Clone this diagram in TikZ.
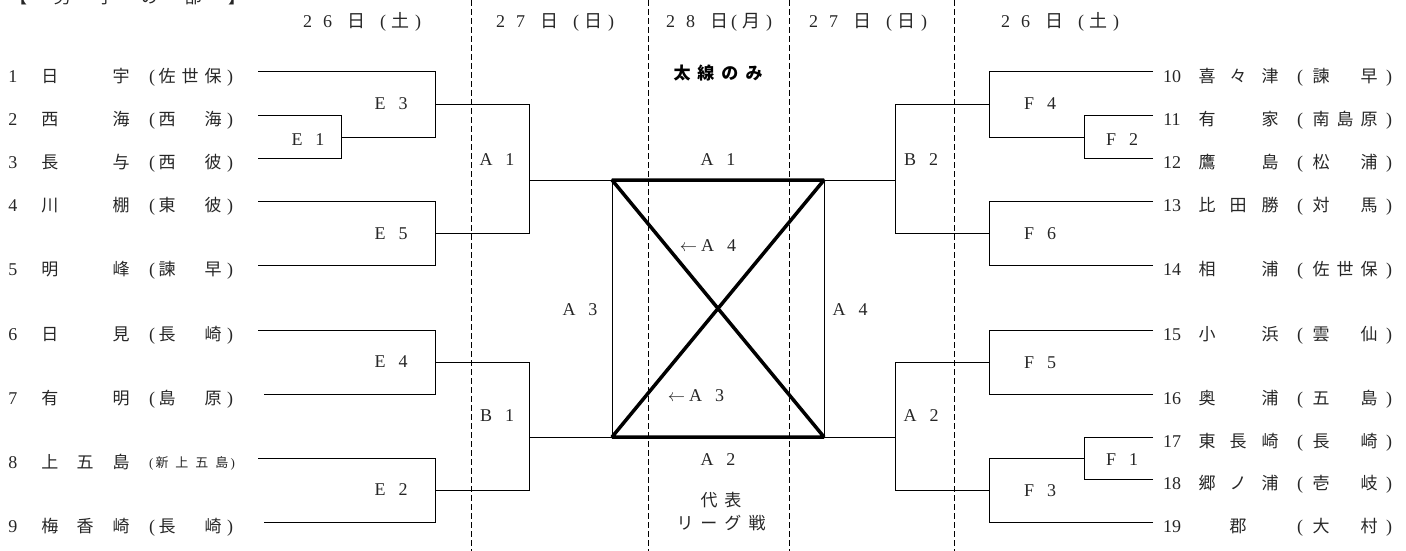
\documentclass[tikz,border=0pt]{standalone}
\usepackage{fontspec}
\setmainfont{Liberation Serif}
\newfontfamily\jp{Noto Sans CJK JP}
\tikzstyle{wire}=[draw,line width=1pt]
\tikzstyle{heavy}=[draw,line width=3.5pt,line join=bevel]
\tikzstyle{dayline}=[draw,line width=0.8pt,dash pattern=on 6pt off 3pt]
\tikzstyle{txt}=[anchor=base,inner sep=0pt,text=black!85,font=\fontsize{18}{20}\selectfont]
\tikzstyle{kan}=[txt,font=\jp\fontsize{17}{19}\selectfont]
\newcommand\mlab[2]{#1\hspace{13pt}#2}
\newcommand\dday[4]{#1\hspace{11pt}#2\hspace{15pt}{\jp 日}\hspace{#4pt}(\hspace{5pt}{\jp #3}\hspace{6pt})}

\begin{document}
\begin{tikzpicture}[x=1pt,y=-1pt]
    \useasboundingbox (0,0) rectangle (1406,551);

    % day columns
    \foreach \x in {471,648,789,954}
        \draw[dayline] (\x,0) -- (\x,551);

    \node[kan, anchor=base west] (title) at (10,4) {\makebox[235pt]{【\hfill 男\hfill 子\hfill の\hfill 部\hfill 】}};

    \node[txt] (d1) at (362,28) {\dday{2}{6}{土}{15}};
    \node[txt] (d2) at (555,28) {\dday{2}{7}{日}{15}};
    \node[txt] (d3) at (719,28) {\dday{2}{8}{月}{3}};
    \node[txt] (d4) at (868,28) {\dday{2}{7}{日}{15}};
    \node[txt] (d5) at (1060,28) {\dday{2}{6}{土}{15}};

    % left teams
    \foreach \y/\n/\a/\b/\c/\p/\q/\r in {72/1/日/{}/宇/佐/世/保, 115/2/西/{}/海/西/{}/海,
        158/3/長/{}/与/西/{}/彼, 201/4/川/{}/棚/東/{}/彼, 265/5/明/{}/峰/諫/{}/早,
        330/6/日/{}/見/長/{}/崎, 394/7/有/{}/明/島/{}/原, 458/8/上/五/島/{}/{}/{},
        522/9/梅/香/崎/長/{}/崎}
    {
        \node[txt] (n\n) at (13,\y+10) {\n};
        \node[kan] (n\n-a) at (50,\y+10) {\a};
        \node[kan] (n\n-b) at (85,\y+10) {\b};
        \node[kan] (n\n-c) at (121,\y+10) {\c};
        \node[kan] (n\n-p) at (167,\y+10) {\p};
        \node[kan] (n\n-q) at (190,\y+10) {\q};
        \node[kan] (n\n-r) at (213,\y+10) {\r};
    }
    \foreach \y/\n in {72/1,115/2,158/3,201/4,265/5,330/6,394/7,522/9}
    {
        \node[txt] (o\n) at (152,\y+10) {(};
        \node[txt] (c\n) at (230,\y+10) {)};
    }
    \node[txt, font=\fontsize{13}{15}\selectfont] (n8-h) at (192,467)
        {(\hspace{2pt}{\jp 新\hspace{7pt}上\hspace{7pt}五\hspace{7pt}島}\hspace{2pt})};

    % right teams
    \foreach \y/\n/\a/\b/\c/\p/\q/\r in {72/10/喜/々/津/諫/{}/早, 115/11/有/{}/家/南/島/原,
        158/12/鷹/{}/島/松/{}/浦, 201/13/比/田/勝/対/{}/馬, 265/14/相/{}/浦/佐/世/保,
        330/15/小/{}/浜/雲/{}/仙, 394/16/奥/{}/浦/五/{}/島, 437/17/東/長/崎/長/{}/崎,
        479/18/郷/ノ/浦/壱/{}/岐, 522/19/{}/郡/{}/大/{}/村}
    {
        \node[txt] (n\n) at (1172,\y+10) {\n};
        \node[kan] (n\n-a) at (1207,\y+10) {\a};
        \node[kan] (n\n-b) at (1238,\y+10) {\b};
        \node[kan] (n\n-c) at (1270,\y+10) {\c};
        \node[txt] (o\n) at (1300,\y+10) {(};
        \node[kan] (n\n-p) at (1321,\y+10) {\p};
        \node[kan] (n\n-q) at (1345,\y+10) {\q};
        \node[kan] (n\n-r) at (1369,\y+10) {\r};
        \node[txt] (c\n) at (1389,\y+10) {)};
    }

    % line ends
    \foreach \y/\x [count=\i] in {72/258,115/258,158/258,201/258,265/258,330/258,394/264,458/258,522/264}
        \coordinate (s\i) at (\x,\y);
    \foreach \y [count=\i from 10] in {72,115,158,201,265,330,394,437,479,522}
        \coordinate (s\i) at (1153,\y);

    \coordinate (e1) at (341,137);
    \coordinate (e3) at (435,104);
    \coordinate (e5) at (435,233);
    \coordinate (e4) at (435,362);
    \coordinate (e2) at (435,490);
    \coordinate (a1) at (529,180);
    \coordinate (b1) at (529,437);
    \coordinate (f2) at (1084,137);
    \coordinate (f4) at (989,104);
    \coordinate (f6) at (989,233);
    \coordinate (f5) at (989,362);
    \coordinate (f1) at (1084,458);
    \coordinate (f3) at (989,490);
    \coordinate (b2) at (895,180);
    \coordinate (a2) at (895,437);
    \coordinate (k1) at (612,180);
    \coordinate (k2) at (824,180);
    \coordinate (k3) at (612,437);
    \coordinate (k4) at (824,437);

    % left bracket
    \foreach \src/\dest in {s2/e1, s3/e1, e1/e3, s1/e3, e3/a1, s4/e5, s5/e5, e5/a1,
        s6/e4, s7/e4, s8/e2, s9/e2, e4/b1, e2/b1}
        \path[wire] (\src) -| (\dest);
    \path[wire] (a1) -- (k1);
    \path[wire] (b1) -- (k3);

    % right bracket
    \foreach \src/\dest in {s11/f2, s12/f2, f2/f4, s10/f4, f4/b2, s13/f6, s14/f6, f6/b2,
        s15/f5, s16/f5, f5/a2, s17/f1, s18/f1, f1/f3, s19/f3, f3/a2}
        \path[wire] (\src) -| (\dest);
    \path[wire] (b2) -- (k2);
    \path[wire] (a2) -- (k4);

    % final league
    \path[wire] (k1) -- (k3);
    \path[wire] (k2) -- (k4);
    \path[heavy] (k1) -- (k2) -- (k3) -- (k4) -- cycle;

    % match labels
    \foreach \x/\y/\a/\b in {308/145/E/1, 391/110/E/3, 391/239/E/5, 391/367/E/4, 391/495/E/2,
        497/165/A/1, 497/421/B/1, 580/315/A/3, 718/165/A/1, 718/465/A/2,
        921/165/B/2, 921/421/A/2, 850/315/A/4,
        1040/110/F/4, 1122/145/F/2, 1040/239/F/6, 1040/368/F/5, 1122/465/F/1, 1040/496/F/3}
        \node[txt] (m\a\b-\x) at (\x,\y) {\mlab{\a}{\b}};

    \node[txt] (toA4) at (708,251) {$\leftarrow$\hspace{4pt}\mlab{A}{4}};
    \node[txt] (toA3) at (696,401) {$\leftarrow$\hspace{4pt}\mlab{A}{3}};
    \node[kan, font=\jp\bfseries\fontsize{17}{19}\selectfont, text=black] (note) at (718,80)
        {太\hspace{7pt}線\hspace{7pt}の\hspace{7pt}み};
    \node[kan] (rep) at (721,506) {代\hspace{7pt}表};
    \node[kan] (league) at (721,529) {リ\hspace{7pt}ー\hspace{7pt}グ\hspace{7pt}戦};

\end{tikzpicture}
\end{document}
